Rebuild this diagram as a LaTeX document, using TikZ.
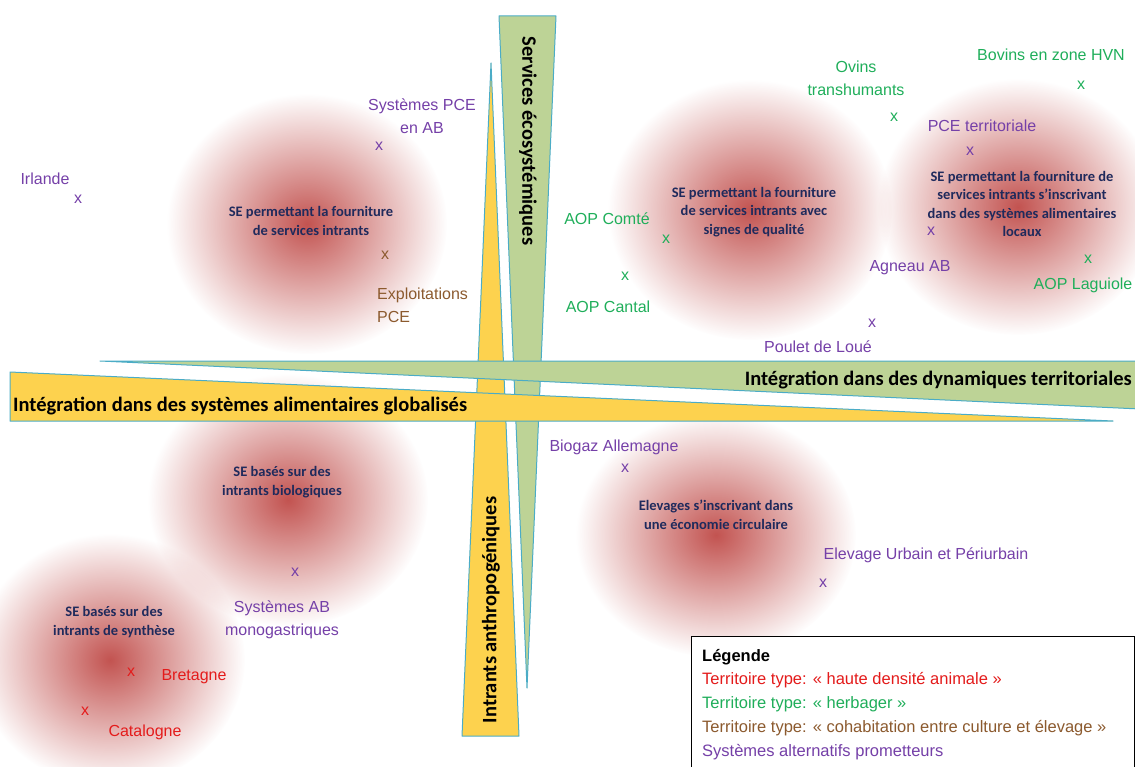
\documentclass[tikz,border=0pt]{standalone}
\usepackage{fontspec}
\setmainfont{Liberation Sans}
\newfontfamily\calib{Carlito}
\usepackage{tikz}
\usetikzlibrary{fadings}
\definecolor{blobred}{HTML}{BF4A47}
\definecolor{wedgegreen}{HTML}{BDD396}
\definecolor{wedgeyellow}{HTML}{FDD24E}
\definecolor{wedgeline}{HTML}{4BACC6}
\definecolor{setxt}{HTML}{1F2A5C}
\definecolor{alt}{HTML}{7540A8}
\definecolor{herb}{HTML}{1FAE5A}
\definecolor{cohab}{HTML}{8C5A2E}
\definecolor{dense}{HTML}{E41B1B}
\tikzfading[name=blobfade, inner color=transparent!5, outer color=transparent!100]

\begin{document}
\begin{tikzpicture}[x=1pt, y=-1pt,
  blob/.style={fill=blobred, path fading=blobfade},
  wedge/.style={draw=wedgeline, line width=1pt, line join=round},
  setext/.style={font=\calib\bfseries\fontsize{14.5}{18.5}\selectfont, text=setxt, align=center, inner sep=0pt},
  axistext/.style={font=\calib\bfseries\fontsize{20.5}{24}\selectfont, inner sep=0pt},
  lab/.style={font=\fontsize{16}{23}\selectfont, align=center, inner sep=0pt},
  xpt/.style={font=\fontsize{16}{16}\selectfont, inner sep=0pt},
  legendframe/.style={draw=black, line width=1pt, fill=white, minimum width=443pt, minimum height=150pt, anchor=north west},
  legendline/.style={font=\fontsize{16.5}{20}\selectfont, anchor=west, inner sep=0pt}
]
  \useasboundingbox (0,0) rectangle (1135,767);

  \fill[blob] (307,224) ellipse [x radius=140pt, y radius=130pt];
  \fill[blob] (750,210) ellipse [x radius=142pt, y radius=130pt];
  \fill[blob] (1018,207) ellipse [x radius=140pt, y radius=128pt];
  \fill[blob] (288,500) ellipse [x radius=140pt, y radius=126pt];
  \fill[blob] (110,660) ellipse [x radius=135pt, y radius=126pt];
  \fill[blob] (716,535) ellipse [x radius=140pt, y radius=122pt];

  \draw[wedge, fill=wedgegreen] (499,16) -- (556,16) -- (527,688) -- cycle;
  \draw[wedge, fill=wedgeyellow] (491,63) -- (519,736) -- (462,736) -- cycle;
  \draw[wedge, fill=wedgegreen] (100,361) -- (1140,361) -- (1140,409) -- cycle;
  \draw[wedge, fill=wedgeyellow] (10,372) -- (1113,421) -- (10,421) -- cycle;

  \node[axistext, rotate=-90] (ecoserv) at (528,141) {Services écosystémiques};
  \node[axistext, rotate=90] (anthro) at (491,610) {Intrants anthropogéniques};
  \node[axistext, anchor=east] (territ) at (1132,380) {Intégration dans des dynamiques territoriales};
  \node[axistext, anchor=west] (global) at (13,406) {Intégration dans des systèmes alimentaires globalisés};

  \node[setext] (seintrants) at (311,221) {SE permettant la fourniture\\de services intrants};
  \node[setext] (sequalite) at (754,212) {SE permettant la fourniture\\de services intrants avec\\signes de qualité};
  \node[setext] (selocaux) at (1022,204) {SE permettant la fourniture de\\services intrants s’inscrivant\\dans des systèmes alimentaires\\locaux};
  \node[setext] (sebio) at (282,482) {SE basés sur des\\intrants biologiques};
  \node[setext] (sesynth) at (114,622) {SE basés sur des\\intrants de synthèse};
  \node[setext] (secirc) at (716,515) {Elevages s’inscrivant dans\\une économie circulaire};

  \node[lab, text=alt] (irlande) at (45,179) {Irlande};
  \node[xpt, text=alt] (xirlande) at (78,199) {x};
  \node[lab, text=alt] (pceab) at (422,116) {Systèmes PCE\\en AB};
  \node[xpt, text=alt] (xpceab) at (379,146) {x};
  \node[xpt, text=cohab] (xexpl) at (385,255) {x};
  \node[lab, text=cohab, anchor=west, align=left] (expl) at (377,305) {Exploitations\\PCE};
  \node[lab, text=herb] (ovins) at (856,78) {Ovins\\transhumants};
  \node[xpt, text=herb] (xovins) at (894,117) {x};
  \node[lab, text=herb] (bovins) at (1051,55) {Bovins en zone HVN};
  \node[xpt, text=herb] (xbovins) at (1081,85) {x};
  \node[lab, text=alt] (pceterr) at (982,126) {PCE territoriale};
  \node[xpt, text=alt] (xpceterr) at (970,151) {x};
  \node[xpt, text=alt] (xagneau) at (931,231) {x};
  \node[lab, text=alt] (agneau) at (910,268) {Agneau AB};
  \node[xpt, text=herb] (xlaguiole) at (1088,259) {x};
  \node[lab, text=herb] (laguiole) at (1083,285) {AOP Laguiole};
  \node[lab, text=herb] (comte) at (607,219) {AOP Comté};
  \node[xpt, text=herb] (xcomte) at (666,239) {x};
  \node[xpt, text=herb] (xcantal) at (625,276) {x};
  \node[lab, text=herb] (cantal) at (608,307) {AOP Cantal};
  \node[xpt, text=alt] (xpoulet) at (872,323) {x};
  \node[lab, text=alt] (poulet) at (818,347) {Poulet de Loué};
  \node[lab, text=alt] (biogaz) at (614,447) {Biogaz Allemagne};
  \node[xpt, text=alt] (xbiogaz) at (625,468) {x};
  \node[lab, text=alt] (urbain) at (926,555) {Elevage Urbain et Périurbain};
  \node[xpt, text=alt] (xurbain) at (823,583) {x};
  \node[xpt, text=alt] (xmonogast) at (295,572) {x};
  \node[lab, text=alt] (monogast) at (282,620) {Systèmes AB\\monogastriques};
  \node[xpt, text=dense] (xbretagne) at (131,672) {x};
  \node[lab, text=dense] (bretagne) at (194,677) {Bretagne};
  \node[xpt, text=dense] (xcatalogne) at (85,711) {x};
  \node[lab, text=dense] (catalogne) at (145,732) {Catalogne};

  \node[legendframe] (legende) at (691,636) {};
  \node[legendline, font=\bfseries\fontsize{16.5}{20}\selectfont] (legtitre) at (702,657) {Légende};
  \node[legendline, text=dense] (legdense) at (702,680) {Territoire type: « haute densité animale »};
  \node[legendline, text=herb] (legherb) at (702,704) {Territoire type: « herbager »};
  \node[legendline, text=cohab] (legcohab) at (702,728) {Territoire type: « cohabitation entre culture et élevage »};
  \node[legendline, text=alt] (legalt) at (702,752) {Systèmes alternatifs prometteurs};
\end{tikzpicture}
\end{document}
